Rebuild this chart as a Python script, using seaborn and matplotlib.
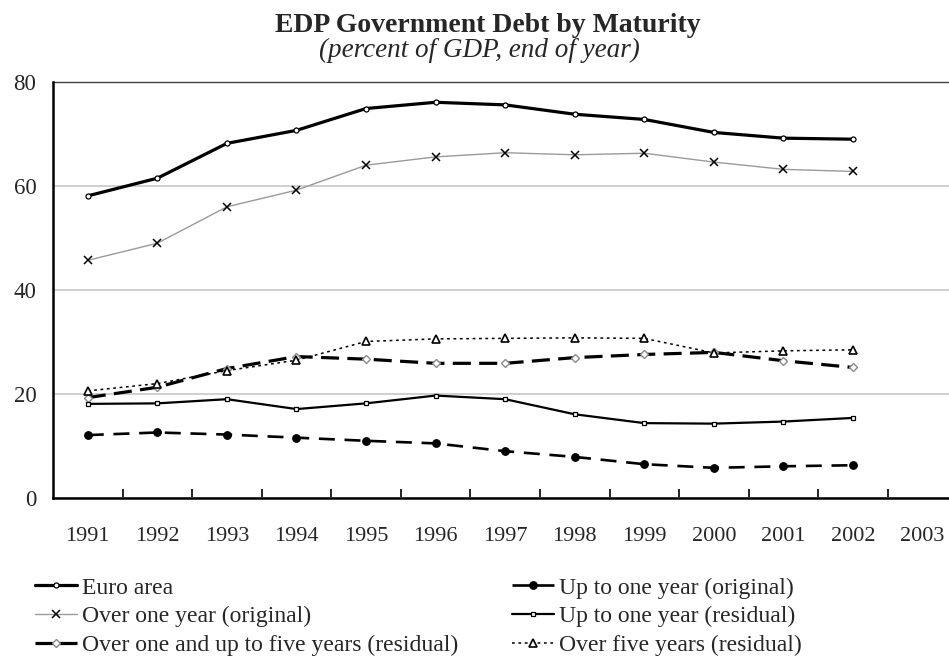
import matplotlib
matplotlib.use("Agg")
import matplotlib.pyplot as plt
from matplotlib.lines import Line2D
import numpy as np
import pandas as pd
import seaborn as sns

# Categories (year-end) and series, percent of GDP
years = [str(y) for y in range(1991, 2004)]
data_years = years[:12]

euro_area = [58.1, 61.5, 68.2, 70.7, 74.9, 76.1, 75.6, 73.8, 72.8, 70.3, 69.2, 69.0]
over_one_original = [45.7, 49.0, 56.0, 59.2, 64.0, 65.6, 66.4, 66.0, 66.3, 64.6, 63.2, 62.8]
one_to_five_residual = [19.3, 21.3, 24.9, 27.2, 26.7, 25.9, 25.9, 27.0, 27.6, 28.0, 26.4, 25.1]
up_to_one_original = [12.1, 12.6, 12.2, 11.6, 11.0, 10.5, 9.0, 7.9, 6.5, 5.8, 6.1, 6.3]
up_to_one_residual = [18.1, 18.2, 19.0, 17.1, 18.2, 19.7, 19.0, 16.1, 14.4, 14.3, 14.7, 15.4]
over_five_residual = [20.6, 22.0, 24.5, 26.5, 30.1, 30.6, 30.7, 30.8, 30.7, 27.9, 28.3, 28.5]

series_names = [
    "Euro area",
    "Over one year (original)",
    "Over one and up to five years (residual)",
    "Up to one year (original)",
    "Up to one year (residual)",
    "Over five years (residual)",
]
series_values = [euro_area, over_one_original, one_to_five_residual,
                 up_to_one_original, up_to_one_residual, over_five_residual]

rows = []
for name, vals in zip(series_names, series_values):
    for yr, v in zip(data_years, vals):
        rows.append({"year": yr, "pos": years.index(yr), "series": name, "value": v})
df = pd.DataFrame(rows)

styles = {
    "Euro area": dict(color="black", lw=2.3, ls="-", marker="o", ms=3.6,
                      mfc="white", mec="black", mew=0.9, zorder=5),
    "Over one year (original)": dict(color="#9a9a9a", lw=1.0, ls="-", marker="x", ms=6.0,
                                     mfc="black", mec="black", mew=1.1, zorder=4),
    "Over one and up to five years (residual)": dict(color="black", lw=2.3, ls=(0, (13, 6)),
                                                     marker="D", ms=3.6, mfc="white",
                                                     mec="#8a8a8a", mew=1.0, zorder=3),
    "Up to one year (original)": dict(color="black", lw=1.9, ls=(0, (11.5, 7)), marker="o",
                                      ms=5.5, mfc="black", mec="black", mew=0.8, zorder=3),
    "Up to one year (residual)": dict(color="black", lw=1.6, ls="-", marker="s", ms=3.4,
                                      mfc="white", mec="black", mew=0.9, zorder=3),
    "Over five years (residual)": dict(color="black", lw=1.1, ls=(0, (2.0, 2.6)), marker="^",
                                       ms=6.0, mfc="white", mec="black", mew=1.2, zorder=4),
}
# Legend keys: dashed series show one dash either side of the marker
legend_ls = {
    "Over one and up to five years (residual)": (0, (13, 4.3)),
    "Up to one year (original)": (0, (13, 4.3)),
}

sns.set_style("white")
plt.rcParams["font.family"] = ["Liberation Serif", "DejaVu Serif"]
plt.rcParams["lines.scale_dashes"] = False

W, H = 949, 664
fig = plt.figure(figsize=(W / 100, H / 100), dpi=100)
ax = fig.add_axes([53 / W, 1 - 498 / H, (W - 53) / W, (498 - 82) / H])

for name in series_names:
    st = styles[name]
    sub = df[df["series"] == name]
    sns.lineplot(data=sub, x="pos", y="value", ax=ax,
                 color=st["color"], linewidth=st["lw"], linestyle=st["ls"],
                 marker=st["marker"], markersize=st["ms"],
                 markerfacecolor=st["mfc"], markeredgecolor=st["mec"],
                 markeredgewidth=st["mew"], zorder=st["zorder"], errorbar=None)

ax.set_xlim(-0.5, 12.38)
ax.set_ylim(0, 80)
ax.set_xlabel("")
ax.set_ylabel("")

# Category labels centred, tick marks on category boundaries
ax.set_xticks(range(len(years)))
ax.set_xticklabels(years, fontsize=16)
ax.set_xticks(np.arange(0.5, len(years) - 1, 1.0), minor=True)
ax.tick_params(axis="x", which="major", length=0, pad=21)
ax.tick_params(axis="x", which="minor", direction="in", length=6.5, width=1.2,
               color="black", bottom=True)

ax.set_yticks([0, 20, 40, 60, 80])
ax.set_yticklabels(["0", "20", "40", "60", "80"], fontsize=16.5)
ax.tick_params(axis="y", length=0, pad=12)

ax.yaxis.grid(True, color="#cfcfcf", linewidth=1.4)
ax.xaxis.grid(False)
ax.set_axisbelow(True)

for side in ["left", "bottom"]:
    ax.spines[side].set_color("black")
    ax.spines[side].set_linewidth(1.8)
ax.spines["top"].set_color("#404040")
ax.spines["top"].set_linewidth(1.0)
ax.spines["right"].set_visible(False)
ax.spines["left"].set_zorder(6)
ax.spines["bottom"].set_zorder(6)

fig.text(488 / W, 1 - 32 / H, "EDP Government Debt by Maturity",
         ha="center", va="baseline", fontsize=20, fontweight="bold")
fig.text(479 / W, 1 - 57 / H, "(percent of GDP, end of year)",
         ha="center", va="baseline", fontsize=19.5, style="italic")

handles = []
for name in series_names:
    st = styles[name]
    handles.append(Line2D([], [], color=st["color"], linewidth=st["lw"],
                          linestyle=legend_ls.get(name, st["ls"]),
                          marker=st["marker"], markersize=st["ms"],
                          markerfacecolor=st["mfc"], markeredgecolor=st["mec"],
                          markeredgewidth=st["mew"]))

leg_kw = dict(frameon=False, loc="upper left", fontsize=17, handlelength=1.78,
              handletextpad=0.22, labelspacing=0.31, borderpad=0, borderaxespad=0,
              numpoints=1)
fig.legend(handles[:3], series_names[:3], bbox_to_anchor=(35 / W, 1 - 577 / H), **leg_kw)
fig.legend(handles[3:], series_names[3:], bbox_to_anchor=(512 / W, 1 - 577 / H), **leg_kw)

fig.savefig("out.png", dpi=100)
